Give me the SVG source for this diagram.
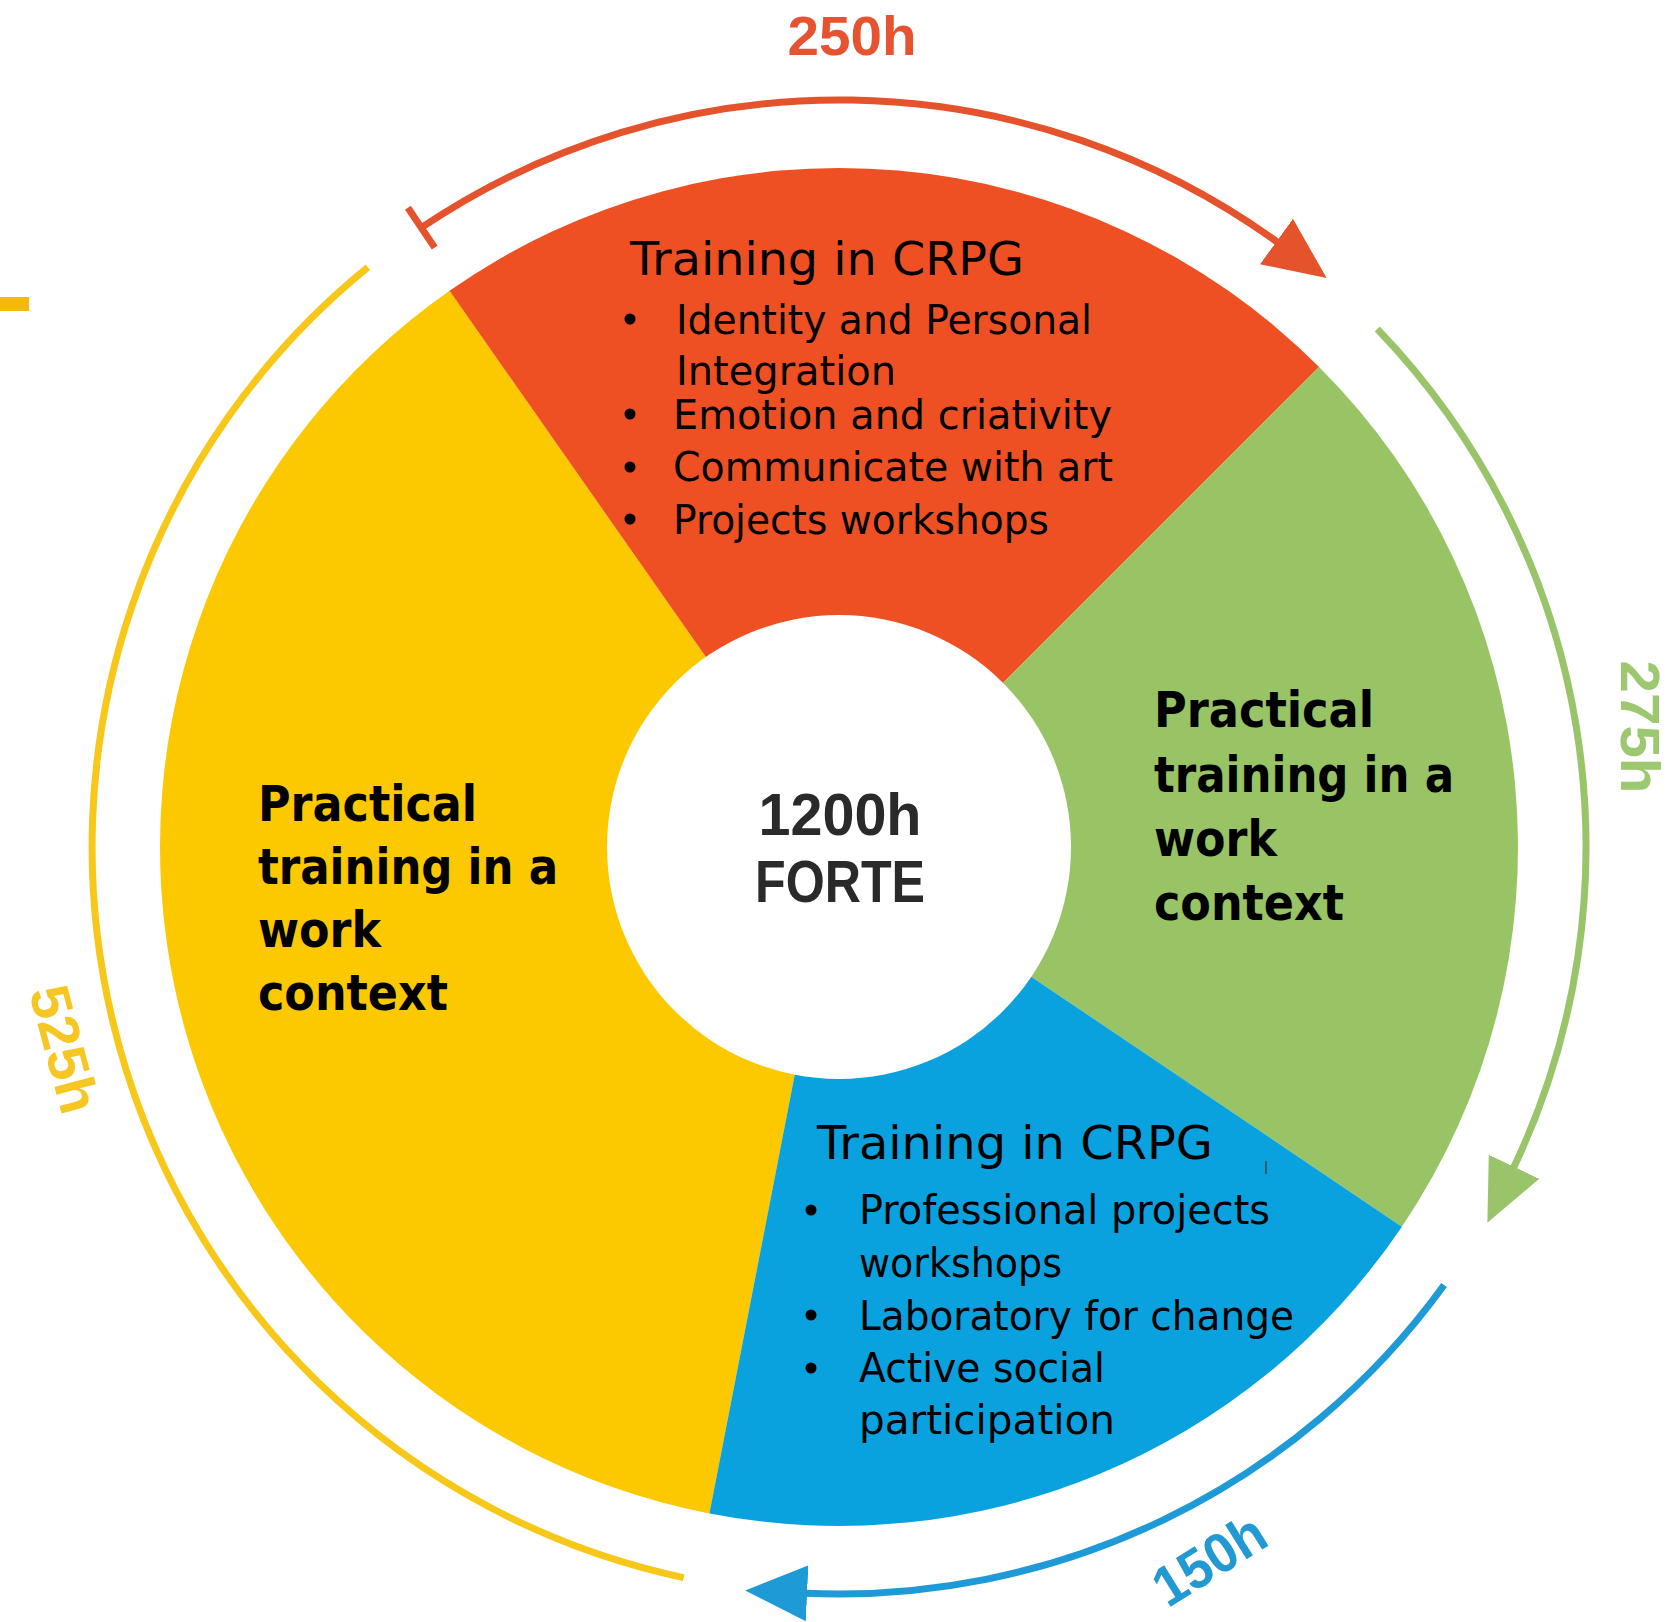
<svg xmlns="http://www.w3.org/2000/svg" width="1673" height="1622" viewBox="0 0 1673 1622">
<style>
.body{font-family:"DejaVu Sans","Liberation Sans",sans-serif;fill:#000;}
.head{font-size:47px;}
.item{font-size:41px;}
.bold{font-family:"DejaVu Sans","Liberation Sans",sans-serif;font-weight:bold;font-size:50px;fill:#000;}
.center{font-family:"Liberation Sans","Open Sans",sans-serif;font-weight:bold;fill:#2a2a2a;text-anchor:middle;}
.hours{font-family:"Liberation Sans","Open Sans",sans-serif;font-weight:bold;font-size:56px;text-anchor:middle;}
.arc{fill:none;stroke-width:7;}
.bullet{fill:#000;}
</style>
<defs>
<marker id="headRed" markerUnits="userSpaceOnUse" markerWidth="66" markerHeight="58" refX="2" refY="29" orient="auto"><path d="M0,1 L62,29 L0,57 Z" fill="#E4532B"/></marker>
<marker id="headGreen" markerUnits="userSpaceOnUse" markerWidth="66" markerHeight="58" refX="2" refY="29" orient="auto"><path d="M0,1 L62,29 L0,57 Z" fill="#99C46A"/></marker>
<marker id="headBlue" markerUnits="userSpaceOnUse" markerWidth="66" markerHeight="58" refX="2" refY="29" orient="auto"><path d="M0,1 L62,29 L0,57 Z" fill="#1E9AD6"/></marker>
<marker id="tickRed" markerUnits="userSpaceOnUse" markerWidth="12" markerHeight="56" refX="6" refY="28" orient="auto"><path d="M6,4 L6,52" stroke="#E4532B" stroke-width="7"/></marker>
</defs>
<rect x="0" y="0" width="1673" height="1622" fill="#ffffff"/>
<rect x="0" y="297" width="29" height="14" fill="#F5B90A"/>

<g id="node-yellow">
<path d="M839,847 L709.4,1513.5 A679,679 0 0 1 449.5,290.8 Z" fill="#FCC800"/>
<text class="bold" x="258" y="821" textLength="219" lengthAdjust="spacingAndGlyphs">Practical</text>
<text class="bold" x="258" y="884" textLength="300" lengthAdjust="spacingAndGlyphs">training in a</text>
<text class="bold" x="258" y="947" textLength="123" lengthAdjust="spacingAndGlyphs">work</text>
<text class="bold" x="258" y="1010" textLength="190" lengthAdjust="spacingAndGlyphs">context</text>
</g>

<g id="node-red">
<path d="M839,847 L449.5,290.8 A679,679 0 0 1 1319.1,366.9 Z" fill="#EF5023"/>
<text class="body head" x="630" y="275" textLength="394" lengthAdjust="spacingAndGlyphs">Training in CRPG</text>
<circle class="bullet" cx="630" cy="319" r="5.5"/>
<circle class="bullet" cx="630" cy="414" r="5.5"/>
<circle class="bullet" cx="630" cy="467" r="5.5"/>
<circle class="bullet" cx="630" cy="519" r="5.5"/>
<text class="body item" x="676" y="334" textLength="416" lengthAdjust="spacingAndGlyphs">Identity and Personal</text>
<text class="body item" x="676" y="385" textLength="220" lengthAdjust="spacingAndGlyphs">Integration</text>
<text class="body item" x="673" y="429" textLength="439" lengthAdjust="spacingAndGlyphs">Emotion and criativity</text>
<text class="body item" x="673" y="481" textLength="440" lengthAdjust="spacingAndGlyphs">Communicate with art</text>
<text class="body item" x="673" y="534" textLength="376" lengthAdjust="spacingAndGlyphs">Projects workshops</text>
</g>

<g id="node-green">
<path d="M839,847 L1319.1,366.9 A679,679 0 0 1 1401.9,1226.7 Z" fill="#98C465"/>
<text class="bold" x="1154" y="727" textLength="220" lengthAdjust="spacingAndGlyphs">Practical</text>
<text class="bold" x="1154" y="792" textLength="300" lengthAdjust="spacingAndGlyphs">training in a</text>
<text class="bold" x="1154" y="856" textLength="123" lengthAdjust="spacingAndGlyphs">work</text>
<text class="bold" x="1154" y="920" textLength="190" lengthAdjust="spacingAndGlyphs">context</text>
</g>

<g id="node-blue">
<path d="M839,847 L1401.9,1226.7 A679,679 0 0 1 709.4,1513.5 Z" fill="#09A2DE"/>
<text class="body head" x="817" y="1159" textLength="396" lengthAdjust="spacingAndGlyphs">Training in CRPG</text>
<line x1="1266" y1="1161" x2="1266" y2="1174" stroke="#444" stroke-width="1.5"/>
<circle class="bullet" cx="811" cy="1210" r="5.5"/>
<circle class="bullet" cx="811" cy="1315" r="5.5"/>
<circle class="bullet" cx="811" cy="1368" r="5.5"/>
<text class="body item" x="859" y="1224" textLength="411" lengthAdjust="spacingAndGlyphs">Professional projects</text>
<text class="body item" x="859" y="1277" textLength="203" lengthAdjust="spacingAndGlyphs">workshops</text>
<text class="body item" x="859" y="1330" textLength="435" lengthAdjust="spacingAndGlyphs">Laboratory for change</text>
<text class="body item" x="859" y="1382" textLength="246" lengthAdjust="spacingAndGlyphs">Active social</text>
<text class="body item" x="859" y="1434" textLength="256" lengthAdjust="spacingAndGlyphs">participation</text>
</g>

<g id="node-center">
<circle cx="839" cy="847" r="232" fill="#ffffff"/>
<text class="center" x="840" y="835" font-size="60" textLength="163" lengthAdjust="spacingAndGlyphs">1200h</text>
<text class="center" x="840" y="902" font-size="59" textLength="170" lengthAdjust="spacingAndGlyphs">FORTE</text>
</g>

<g id="connectors">
<path class="arc" stroke="#E4532B" d="M421.3,227.7 A747,747 0 0 1 1278.1,242.7" marker-start="url(#tickRed)" marker-end="url(#headRed)"/>
<path class="arc" stroke="#99C46A" d="M1377.3,329.0 A747,747 0 0 1 1513.2,1168.6" marker-end="url(#headGreen)"/>
<path class="arc" stroke="#1E9AD6" d="M1444.1,1285.0 A747,747 0 0 1 805.1,1593.2" marker-end="url(#headBlue)"/>
<path class="arc" stroke="#F7C81A" d="M683.7,1577.6 A747,747 0 0 1 367.9,267.3"/>
</g>

<g id="labels">
<text class="hours" x="852" y="55" fill="#E55330" textLength="129" lengthAdjust="spacingAndGlyphs">250h</text>
<text class="hours" transform="translate(1641,727) rotate(90)" x="0" y="20" fill="#9CC870" textLength="133" lengthAdjust="spacingAndGlyphs">275h</text>
<text class="hours" transform="translate(1210,1561) rotate(-32)" x="0" y="18" font-size="51" fill="#2299D2" textLength="122" lengthAdjust="spacingAndGlyphs">150h</text>
<text class="hours" transform="translate(65,1049) rotate(75)" x="0" y="20" fill="#F6C623" textLength="130" lengthAdjust="spacingAndGlyphs">525h</text>
</g>
</svg>
